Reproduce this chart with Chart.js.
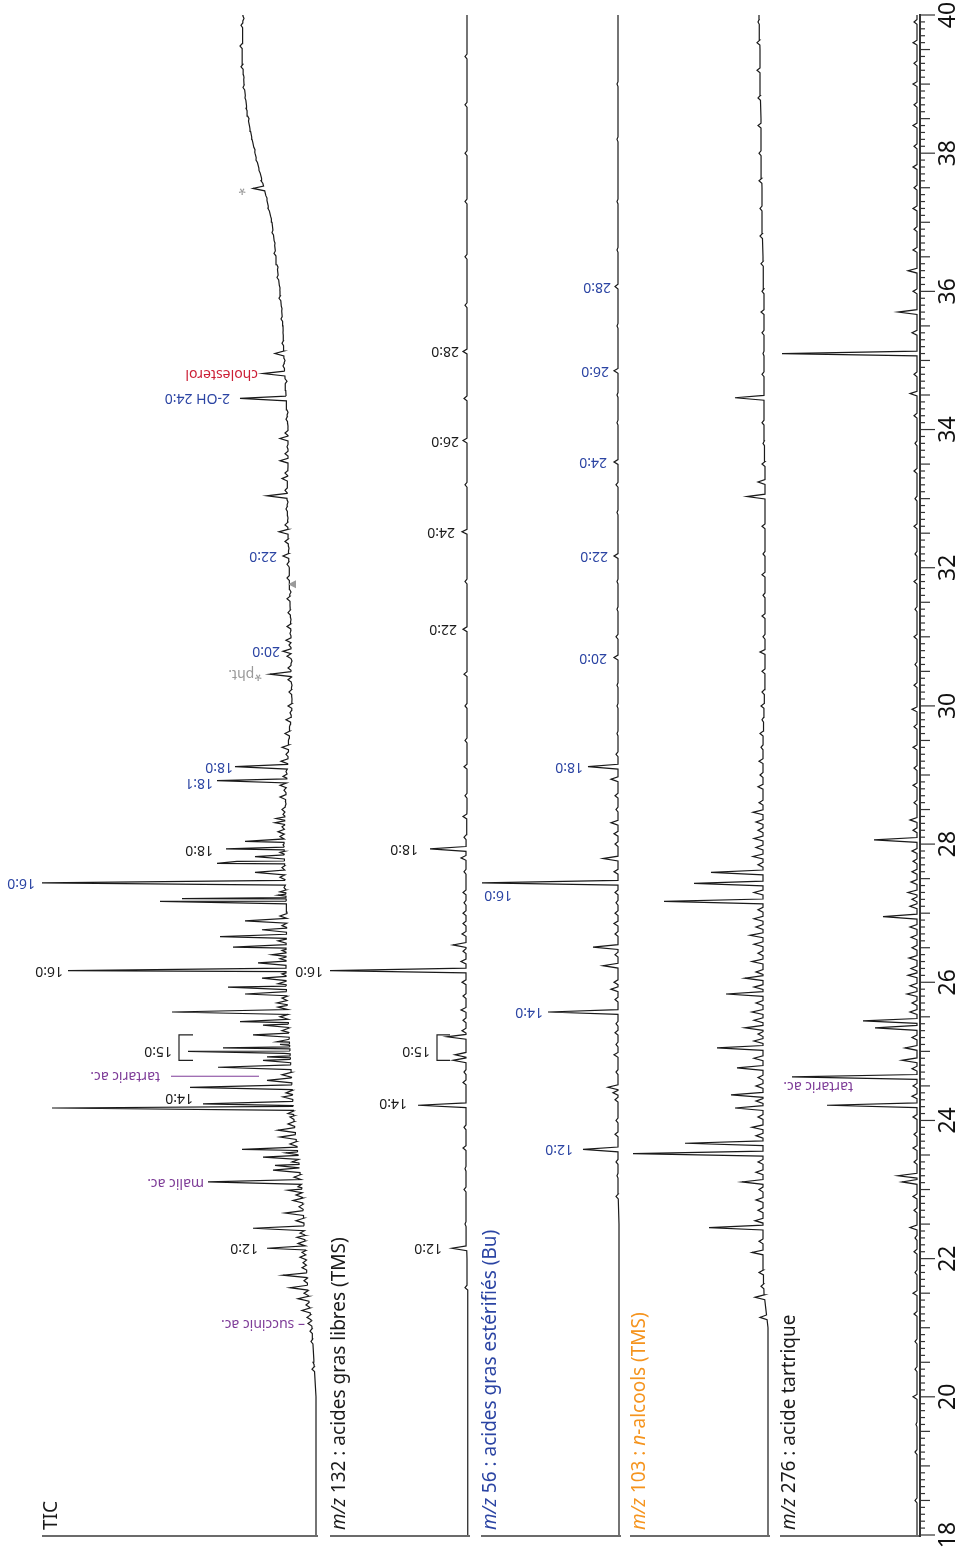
<!DOCTYPE html>
<html lang="fr">
<head>
<meta charset="UTF-8">
<title>Chromatogrammes GC-MS</title>
<script src="https://cdn.jsdelivr.net/npm/chart.js@4.4.0/dist/chart.umd.min.js"></script>
<style>
    html, body { margin: 0; padding: 0; background: #fff; }
    #wrap { width: 961px; height: 1551px; }
</style>
</head>
<body>
<div id="wrap"><canvas id="chromCanvas" width="961" height="1551"></canvas></div>
<script>
// retention time (min) of the baseline knots, shared by all traces
const knotTimes = [18, 18.5, 19, 19.5, 20, 20.5, 21, 21.5, 22, 22.5, 23, 23.5, 24, 24.5, 25, 25.5,
    26, 26.5, 27, 27.5, 28, 28.5, 29, 29.5, 30, 30.5, 31, 31.5, 32, 32.5, 33, 33.5, 34, 34.5,
    35, 35.5, 36, 36.5, 37, 37.5, 38, 38.5, 39, 39.5, 40];
const timeTicks = [18, 20, 22, 24, 26, 28, 30, 32, 34, 36, 38, 40];

// baseline levels
const ticKnots = [0, 0, 0, 0, 0, 2, 4, 8, 10, 12, 14, 18, 22, 24, 26, 28, 30, 30, 29, 31, 32, 31,
    29, 27, 24, 25, 25, 26, 27, 28, 29, 28, 28, 30, 32, 33, 36, 40, 44, 52, 61, 68, 72, 74, 73];
const mz132Knots = [0, 0, 0, 0, 0, 0, 0, 1, 1, 2, 2, 2, 2, 2, 2, 2, 2, 2, 2, 2, 2, 1, 1, 1, 1, 1,
    1, 1, 1, 1, 1, 1, 1, 1, 1, 1, 1, 1, 1, 1, 1, 1, 1, 1, 1];
const mz56Knots = [0, 0, 0, 0, 0, 0, 0, 0, 0, 0, 1, 1, 1, 1, 1, 1, 1, 1, 1, 1, 1, 1, 1, 1, 1, 1,
    1, 1, 1, 1, 1, 1, 1, 1, 1, 1, 1, 1, 1, 1, 1, 1, 1, 1, 1];
const mz103Knots = [0, 0, 0, 0, 0, 0, 0, 4, 5, 5, 5, 5, 5, 5, 5, 5, 5, 5, 5, 5, 5, 5, 5, 5, 4, 3,
    3, 3, 3, 3, 3, 3, 4, 4, 4, 4, 4, 5, 6, 6, 7, 7, 8, 8, 9];
const mz276Knots = [1, 1, 1, 1, 1, 1, 1, 1, 1, 1, 1, 1, 1, 1, 1, 1, 1, 1, 1, 1, 1, 1, 1, 1, 1, 1,
    1, 1, 1, 1, 1, 1, 1, 1, 1, 1, 1, 1, 1, 1, 1, 1, 1, 1, 1];

// peaks: [retention time, intensity at apex]
const ticPeaks = [
    [20.40, 4], [20.50, 3], [20.80, 5], [20.95, 6], [21.06, 8], [21.15, 9], [21.25, 14], [21.33, 10],
    [21.42, 18], [21.50, 12], [21.58, 26], [21.68, 12], [21.76, 33], [21.87, 14], [21.94, 13],
    [22.02, 16], [22.09, 14], [22.15, 49], [22.22, 18], [22.31, 19], [22.37, 16], [22.44, 63],
    [22.55, 20], [22.66, 31], [22.75, 17], [22.84, 23], [22.92, 20], [22.99, 28], [23.04, 18],
    [23.11, 108], [23.18, 22], [23.28, 43], [23.35, 41], [23.40, 24], [23.47, 53], [23.53, 30],
    [23.58, 74], [23.66, 26], [23.76, 36], [23.86, 38], [23.95, 28], [24.05, 26], [24.10, 28],
    [24.18, 264], [24.24, 113], [24.34, 33], [24.40, 30], [24.48, 126], [24.58, 49], [24.66, 34],
    [24.77, 98], [24.87, 53], [24.92, 49], [24.97, 32], [25.00, 128], [25.05, 93], [25.10, 36],
    [25.14, 39], [25.24, 63], [25.30, 34], [25.38, 53], [25.43, 76], [25.50, 36], [25.57, 144],
    [25.64, 38], [25.70, 39], [25.77, 34], [25.83, 71], [25.93, 88], [25.98, 38], [26.06, 54],
    [26.12, 34], [26.17, 248], [26.28, 58], [26.34, 36], [26.40, 44], [26.46, 34], [26.51, 83],
    [26.60, 38], [26.66, 96], [26.76, 54], [26.82, 34], [26.89, 71], [26.96, 36], [27.05, 30],
    [27.17, 156], [27.21, 134], [27.26, 38], [27.31, 36], [27.37, 32], [27.44, 274], [27.52, 36],
    [27.59, 61], [27.66, 34], [27.72, 99], [27.75, 79], [27.82, 61], [27.88, 36], [27.93, 90],
    [27.99, 33], [28.04, 71], [28.11, 36], [28.18, 38], [28.25, 34], [28.31, 41], [28.37, 40],
    [28.43, 33], [28.50, 34], [28.58, 30], [28.68, 36], [28.78, 32], [28.85, 36], [28.92, 99],
    [28.98, 33], [29.05, 30], [29.12, 81], [29.20, 35], [29.30, 30], [29.40, 34], [29.50, 28],
    [29.60, 31], [29.70, 27], [29.80, 30], [29.90, 26], [30.00, 28], [30.10, 24], [30.20, 27],
    [30.30, 24], [30.38, 28], [30.46, 46], [30.55, 28], [30.65, 24], [30.72, 29], [30.79, 33],
    [30.88, 27], [30.95, 30], [31.05, 26], [31.15, 29], [31.25, 25], [31.35, 28], [31.45, 26],
    [31.55, 29], [31.65, 25], [31.85, 29], [31.95, 26], [32.05, 29], [32.17, 33], [32.28, 27],
    [32.38, 31], [32.45, 28], [32.52, 37], [32.62, 31], [32.72, 28], [32.85, 30], [32.95, 28],
    [33.04, 49], [33.12, 31], [33.20, 29], [33.29, 34], [33.37, 31], [33.46, 28], [33.55, 36],
    [33.65, 31], [33.75, 29], [33.87, 36], [33.95, 31], [34.05, 28], [34.15, 30], [34.25, 28],
    [34.35, 30], [34.45, 76], [34.60, 31], [34.70, 29], [34.81, 53], [34.92, 33], [35.00, 31],
    [35.10, 41], [35.25, 34], [35.40, 33], [35.60, 35], [35.75, 34], [35.90, 37], [36.05, 36],
    [36.20, 39], [36.35, 38], [36.55, 42], [36.70, 41], [36.85, 44], [37.05, 45], [37.20, 48],
    [37.35, 49], [37.49, 63], [37.60, 55], [37.75, 57], [37.90, 60], [38.05, 61], [38.20, 64],
    [38.35, 66], [38.50, 67], [38.65, 70], [38.80, 71], [38.95, 73], [39.10, 72], [39.25, 75],
    [39.40, 74], [39.55, 76], [39.70, 73], [39.85, 75], [39.95, 72]
];
const mz132Peaks = [
    [21.58, 3], [22.15, 16], [22.50, 3], [23.00, 4], [23.30, 3], [23.60, 5], [23.90, 4],
    [24.22, 50], [24.55, 5], [24.70, 4], [24.87, 15], [24.95, 13], [25.21, 21], [25.30, 6],
    [25.45, 5], [25.60, 7], [25.80, 5], [26.00, 6], [26.17, 138], [26.30, 7], [26.45, 5],
    [26.54, 15], [26.70, 6], [26.85, 5], [27.00, 5], [27.15, 4], [27.30, 5], [27.60, 4],
    [27.80, 7], [27.93, 38], [28.10, 4], [28.40, 5], [28.70, 3], [29.12, 4], [29.50, 3],
    [30.00, 3], [30.46, 4], [31.11, 5], [31.80, 3], [32.52, 6], [33.20, 3], [33.84, 5],
    [34.45, 4], [35.13, 5], [35.80, 3], [36.50, 3], [37.30, 3], [38.00, 3], [38.70, 3], [39.40, 3]
];
const mz56Peaks = [
    [22.90, 3], [23.20, 2], [23.40, 3], [23.58, 36], [23.80, 4], [24.00, 3], [24.30, 4],
    [24.40, 6], [24.48, 11], [24.70, 3], [24.95, 5], [25.10, 3], [25.27, 4], [25.40, 3],
    [25.57, 71], [25.75, 4], [25.90, 8], [26.00, 5], [26.24, 16], [26.40, 4], [26.51, 26],
    [26.70, 4], [26.85, 5], [27.00, 4], [27.15, 3], [27.30, 4], [27.44, 137], [27.60, 5],
    [27.79, 16], [28.00, 4], [28.15, 5], [28.31, 8], [28.50, 3], [28.70, 4], [28.94, 8],
    [29.12, 31], [29.30, 3], [29.60, 2], [30.00, 2], [30.30, 2], [30.70, 5], [31.00, 3],
    [31.40, 2], [31.80, 2], [32.17, 5], [32.80, 2], [33.20, 3], [33.53, 5], [34.10, 2],
    [34.50, 2], [34.85, 5], [35.50, 2], [36.07, 4], [36.60, 2], [37.30, 2], [38.20, 2], [39.00, 2]
];
const mz103Peaks = [
    [21.15, 8], [21.44, 13], [21.60, 7], [21.80, 9], [22.09, 16], [22.25, 9], [22.45, 59],
    [22.55, 13], [22.70, 10], [22.85, 12], [23.00, 9], [23.11, 26], [23.25, 12], [23.40, 10],
    [23.52, 135], [23.67, 83], [23.78, 12], [23.90, 16], [24.05, 10], [24.18, 33], [24.28, 12],
    [24.37, 37], [24.50, 12], [24.62, 10], [24.76, 31], [24.90, 14], [25.05, 51], [25.15, 14],
    [25.25, 10], [25.34, 23], [25.45, 14], [25.57, 16], [25.70, 12], [25.83, 42], [25.93, 14],
    [26.06, 23], [26.15, 12], [26.30, 16], [26.42, 10], [26.55, 14], [26.68, 18], [26.80, 12],
    [26.92, 14], [27.05, 10], [27.17, 104], [27.30, 14], [27.43, 74], [27.59, 57], [27.70, 10],
    [27.82, 15], [27.95, 12], [28.08, 14], [28.20, 10], [28.32, 12], [28.46, 15], [28.60, 9],
    [28.83, 10], [29.00, 8], [29.20, 9], [29.40, 7], [29.60, 8], [29.80, 6], [30.00, 7],
    [30.20, 6], [30.50, 6], [30.78, 8], [31.00, 5], [31.30, 6], [31.60, 5], [31.90, 6],
    [32.20, 5], [32.60, 6], [33.03, 21], [33.24, 10], [33.50, 6], [33.80, 5], [34.10, 6],
    [34.46, 33], [34.80, 6], [35.10, 5], [35.40, 6], [35.70, 7], [36.00, 6], [36.40, 7],
    [36.80, 8], [37.20, 8], [37.60, 9], [38.00, 9], [38.40, 10], [38.80, 10], [39.20, 11],
    [39.60, 11], [39.90, 10]
];
const mz276Peaks = [
    [18.50, 3], [19.20, 3], [19.60, 2], [20.00, 5], [20.40, 3], [20.80, 3], [21.20, 4],
    [21.50, 5], [21.80, 3], [22.10, 4], [22.30, 3], [22.45, 8], [22.70, 4], [22.90, 5],
    [23.11, 16], [23.20, 20], [23.40, 4], [23.60, 5], [23.80, 4], [24.05, 5], [24.22, 91],
    [24.35, 6], [24.50, 5], [24.63, 126], [24.75, 6], [24.87, 16], [25.05, 13], [25.20, 6],
    [25.34, 43], [25.44, 55], [25.57, 8], [25.70, 6], [25.83, 11], [25.95, 8], [26.10, 10],
    [26.20, 7], [26.35, 9], [26.50, 6], [26.65, 7], [26.80, 8], [26.95, 35], [27.10, 8],
    [27.20, 6], [27.30, 10], [27.45, 7], [27.60, 6], [27.75, 5], [27.90, 6], [28.06, 44],
    [28.20, 5], [28.35, 8], [28.60, 4], [28.85, 5], [29.10, 4], [29.40, 5], [29.70, 4],
    [29.95, 6], [30.30, 4], [30.60, 3], [31.00, 4], [31.40, 3], [31.80, 4], [32.20, 3],
    [32.60, 4], [33.00, 3], [33.40, 4], [33.80, 3], [34.20, 4], [34.52, 8], [34.80, 4],
    [35.10, 136], [35.40, 6], [35.70, 20], [36.00, 5], [36.30, 10], [36.60, 5], [36.90, 4],
    [37.20, 5], [37.50, 4], [37.80, 5], [38.10, 4], [38.40, 5], [38.70, 4], [39.00, 5],
    [39.30, 4], [39.60, 5], [39.90, 4]
];

const INK = '#1a1a1a';
const BLUE = '#2b44a3';
const PURPLE = '#7e3c98';
const RED = '#cc1f36';
const GRAY = '#9a9a9a';
const ORANGE = '#f5941e';

const FONT = '"Noto Sans", "Liberation Sans", sans-serif';

// zero = x value of the trace baseline, span = width of its panel
const traces = [
    { zero: 604, span: 274, knots: ticKnots, peaks: ticPeaks,
      title: [['TIC', '']], titleColor: INK },
    { zero: 452, span: 138, knots: mz132Knots, peaks: mz132Peaks,
      title: [['m/z', 'italic '], [' 132 : acides gras libres (TMS)', '']], titleColor: INK },
    { zero: 301, span: 138, knots: mz56Knots, peaks: mz56Peaks,
      title: [['m/z', 'italic '], [' 56 : acides gras estérifiés (Bu)', '']], titleColor: BLUE },
    { zero: 152, span: 138, knots: mz103Knots, peaks: mz103Peaks,
      title: [['m/z', 'italic '], [' 103 : ', ''], ['n', 'italic '], ['-alcools (TMS)', '']], titleColor: ORANGE },
    { zero: 2, span: 138, knots: mz276Knots, peaks: mz276Peaks,
      title: [['m/z', 'italic '], [' 276 : acide tartrique', '']], titleColor: INK }
];

// [trace, time, text, colour, intensity where the (upside-down) label ends]
const peakLabels = [
    [0, 21.06, '– succinic ac.', PURPLE, 11],
    [0, 22.15, '12:0', INK, 58],
    [0, 23.10, 'malic ac.', PURPLE, 112],
    [0, 24.32, '14:0', INK, 123],
    [0, 24.64, 'tartaric ac.', PURPLE, 156],
    [0, 25.00, '15:0', INK, 144],
    [0, 26.17, '16:0', INK, 253],
    [0, 27.44, '16:0', BLUE, 281],
    [0, 27.91, '18:0', INK, 103],
    [0, 28.89, '18:1', BLUE, 103],
    [0, 29.11, '18:0', BLUE, 83],
    [0, 30.46, '*pht.', GRAY, 54],
    [0, 30.80, '20:0', BLUE, 36],
    [0, 32.17, '22:0', BLUE, 39],
    [0, 34.45, '2-OH 24:0', BLUE, 86],
    [0, 34.81, 'cholesterol', RED, 58],
    [0, 37.49, '*', GRAY, 70],
    [1, 22.15, '12:0', INK, 26],
    [1, 24.25, '14:0', INK, 61],
    [1, 25.00, '15:0', INK, 38],
    [1, 26.17, '16:0', INK, 145],
    [1, 27.93, '18:0', INK, 50],
    [1, 31.11, '22:0', INK, 11],
    [1, 32.52, '24:0', INK, 13],
    [1, 33.84, '26:0', INK, 9],
    [1, 35.13, '28:0', INK, 9],
    [2, 23.58, '12:0', BLUE, 46],
    [2, 25.57, '14:0', BLUE, 76],
    [2, 27.27, '16:0', BLUE, 107],
    [2, 29.12, '18:0', BLUE, 36],
    [2, 30.70, '20:0', BLUE, 12],
    [2, 32.17, '22:0', BLUE, 11],
    [2, 33.53, '24:0', BLUE, 12],
    [2, 34.85, '26:0', BLUE, 10],
    [2, 36.07, '28:0', BLUE, 8],
    [4, 24.50, 'tartaric ac.', PURPLE, 65]
];
// 15:0 brackets: [trace, t from, t to, intensity of the bar, intensity of the tick ends]
const brackets = [[0, 24.87, 25.24, 137, 123], [1, 24.87, 25.24, 31, 18]];

function baseAt(knots, t) {
    if (t <= knotTimes[0]) return knots[0];
    for (let i = 1; i < knotTimes.length; i++) {
        if (t <= knotTimes[i]) {
            const f = (t - knotTimes[i - 1]) / (knotTimes[i] - knotTimes[i - 1]);
            return knots[i - 1] + f * (knots[i] - knots[i - 1]);
        }
    }
    return knots[knots.length - 1];
}

function buildPoints(tr) {
    const w = 0.035;
    const pts = [];
    knotTimes.forEach((t, i) => {
        if (!tr.peaks.some(p => Math.abs(p[0] - t) < w)) pts.push({ t: t, v: tr.knots[i] });
    });
    tr.peaks.forEach(p => {
        pts.push({ t: p[0] - w, v: baseAt(tr.knots, p[0] - w) });
        pts.push({ t: p[0], v: p[1] });
        pts.push({ t: p[0] + w, v: baseAt(tr.knots, p[0] + w) });
    });
    pts.sort((a, b) => a.t - b.t);
    return pts.map(p => ({ x: tr.zero + p.v, y: p.t }));
}

const overlay = {
    id: 'overlay',
    afterDatasetsDraw(chart) {
        const ctx = chart.ctx;
        const xs = chart.scales.x, ys = chart.scales.y;
        const area = chart.chartArea;
        const baseY = ys.getPixelForValue(18) + 1;

        function seg(x1, y1, x2, y2) {
            ctx.beginPath(); ctx.moveTo(x1, y1); ctx.lineTo(x2, y2); ctx.stroke();
        }

        ctx.save();
        // panel base lines
        ctx.strokeStyle = '#3a3a3a';
        ctx.lineWidth = 1.5;
        traces.forEach(tr => {
            seg(xs.getPixelForValue(tr.zero + tr.span), baseY, xs.getPixelForValue(tr.zero) + 2, baseY);
        });

        // time axis on the right
        const ax = area.right;
        ctx.strokeStyle = '#333';
        ctx.lineWidth = 2;
        seg(ax, ys.getPixelForValue(40) - 1, ax, baseY + 1);
        ctx.lineWidth = 1.2;
        for (let k = 0; k <= 220; k++) {
            const t = 18 + k / 10;
            const len = k % 20 === 0 ? 15 : (k % 5 === 0 ? 10 : 5);
            const y = ys.getPixelForValue(t);
            seg(ax, y, ax + len, y);
        }
        ctx.fillStyle = '#111';
        ctx.font = '23px ' + FONT;
        ctx.textAlign = 'center';
        ctx.textBaseline = 'middle';
        timeTicks.forEach(t => {
            ctx.save();
            ctx.translate(ax + 28, ys.getPixelForValue(t));
            ctx.rotate(-Math.PI / 2);
            ctx.fillText(String(t), 0, 0);
            ctx.restore();
        });

        // panel titles, reading upwards
        traces.forEach(tr => {
            ctx.save();
            ctx.translate(xs.getPixelForValue(tr.zero + tr.span) + 10, baseY - 6);
            ctx.rotate(-Math.PI / 2);
            ctx.textAlign = 'left';
            ctx.textBaseline = 'middle';
            ctx.fillStyle = tr.titleColor;
            let pos = 0;
            tr.title.forEach(part => {
                ctx.font = part[1] + '19px ' + FONT;
                ctx.fillText(part[0], pos, 0);
                pos += ctx.measureText(part[0]).width;
            });
            ctx.restore();
        });

        // peak labels, upside down
        ctx.font = '14px ' + FONT;
        ctx.textAlign = 'left';
        ctx.textBaseline = 'middle';
        peakLabels.forEach(l => {
            const tr = traces[l[0]];
            ctx.save();
            ctx.translate(xs.getPixelForValue(tr.zero + l[4]), ys.getPixelForValue(l[1]));
            ctx.rotate(Math.PI);
            ctx.fillStyle = l[3];
            ctx.fillText(l[2], 0, 0);
            ctx.restore();
        });

        // 15:0 brackets
        ctx.strokeStyle = '#222';
        ctx.lineWidth = 1.2;
        brackets.forEach(b => {
            const tr = traces[b[0]];
            const xb = xs.getPixelForValue(tr.zero + b[3]), xt = xs.getPixelForValue(tr.zero + b[4]);
            const y1 = ys.getPixelForValue(b[1]), y2 = ys.getPixelForValue(b[2]);
            ctx.beginPath();
            ctx.moveTo(xt, y1); ctx.lineTo(xb, y1); ctx.lineTo(xb, y2); ctx.lineTo(xt, y2);
            ctx.stroke();
        });

        // leader of the TIC tartaric acid label
        ctx.strokeStyle = PURPLE;
        ctx.lineWidth = 1;
        const yTar = ys.getPixelForValue(24.64);
        seg(xs.getPixelForValue(traces[0].zero + 145), yTar, xs.getPixelForValue(traces[0].zero + 57), yTar);

        // small grey marker on the TIC at 31.76 min
        const ym = ys.getPixelForValue(31.76);
        ctx.fillStyle = GRAY;
        ctx.beginPath();
        ctx.moveTo(xs.getPixelForValue(traces[0].zero + 28), ym);
        ctx.lineTo(xs.getPixelForValue(traces[0].zero + 20), ym - 4);
        ctx.lineTo(xs.getPixelForValue(traces[0].zero + 20), ym + 4);
        ctx.closePath();
        ctx.fill();
        ctx.restore();
    }
};

const chart = new Chart(document.getElementById('chromCanvas').getContext('2d'), {
    type: 'scatter',
    data: {
        datasets: traces.map(tr => ({
            data: buildPoints(tr),
            showLine: true,
            borderColor: INK,
            borderWidth: 1.2,
            pointRadius: 0,
            tension: 0,
            fill: false
        }))
    },
    options: {
        responsive: false,
        animation: false,
        layout: { padding: { top: 15, bottom: 16, left: 0, right: 41 } },
        plugins: { legend: { display: false }, tooltip: { enabled: false } },
        scales: {
            x: { type: 'linear', min: 0, max: 920, reverse: true, display: false },
            y: { type: 'linear', min: 18, max: 40, display: false }
        }
    },
    plugins: [overlay]
});
</script>
</body>
</html>
